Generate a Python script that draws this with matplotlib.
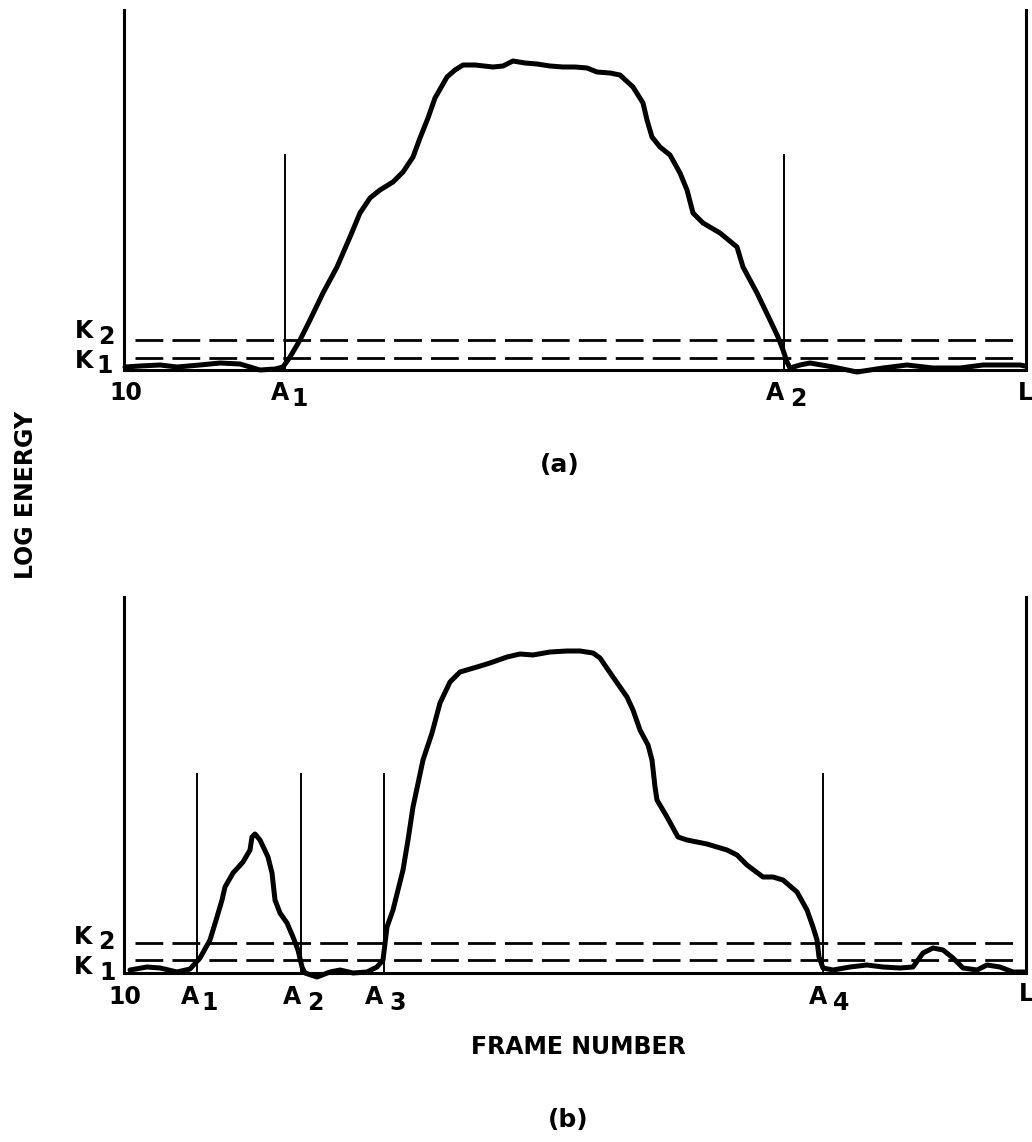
import matplotlib.pyplot as plt
import numpy as np

# frame number (10 .. L = 912) and log energy
frame_a = [11, 26, 46, 63, 86, 106, 126, 146, 161, 169, 176, 186, 196, 209, 223, 236, 246, 256, 266,
           279, 289, 299, 306, 314, 321, 333, 341, 349, 361, 379, 389, 399, 411, 423, 436, 449, 461,
           473, 483, 496, 506, 519, 529, 533, 538, 546, 556, 566, 573, 579, 589, 606, 623, 629, 643,
           656, 664, 669, 673, 676, 686, 696, 719, 743, 769, 793, 819, 846, 869, 886, 906, 911]
energy_a = [3, 4, 5, 3, 5, 7, 6, 0, 1, 3, 13, 30, 50, 77, 103, 133, 157, 172, 180,
            188, 198, 213, 232, 252, 272, 293, 300, 305, 305, 303, 304, 309, 307, 306, 304, 303, 303,
            302, 298, 297, 295, 283, 267, 250, 233, 223, 215, 197, 180, 157, 147, 137, 123, 103, 77,
            50, 33, 20, 8, 2, 5, 7, 3, -2, 2, 5, 2, 2, 5, 5, 5, 4]

frame_b = [16, 33, 46, 63, 76, 86, 96, 103, 108, 111, 119, 129, 136, 138, 141, 146, 154, 158, 161,
           166, 173, 179, 184, 188, 191, 203, 216, 226, 239, 253, 263, 269, 273, 279, 289, 294, 299,
           309, 318, 326, 336, 346, 363, 376, 393, 406, 419, 436, 453, 466, 479, 486, 499, 513, 519,
           526, 534, 538, 541, 543, 553, 564, 573, 593, 613, 623, 633, 649, 659, 669, 683, 693, 699,
           703, 705, 709, 719, 736, 753, 769, 786, 799, 809, 819, 829, 839, 849, 863, 873, 886, 899, 911]
energy_b = [3, 6, 5, 1, 4, 15, 33, 56, 73, 86, 100, 111, 123, 136, 139, 133, 116, 100, 73,
            60, 50, 36, 23, 6, 0, -4, 1, 3, 0, 1, 6, 13, 46, 63, 103, 133, 166,
            213, 240, 270, 291, 301, 306, 310, 316, 319, 318, 321, 322, 322, 320, 315, 296, 276, 263,
            243, 228, 213, 186, 173, 156, 136, 133, 129, 123, 118, 108, 96, 96, 93, 81, 63, 46,
            33, 16, 5, 3, 6, 8, 6, 5, 6, 20, 25, 23, 15, 5, 3, 8, 6, 1, 1]

# thresholds and endpoint markers
k_a = [12, 30]
k_b = [13, 30]
ends_a = [171, 670]
ends_b = [83, 187, 270, 709]
marker_h_a = 216
marker_h_b = 200

W, H = 1032, 1142
fig = plt.figure(figsize=(W / 100, H / 100), dpi=100)
plt.rcParams['font.family'] = 'DejaVu Sans'


def px_axes(left, right, top, bottom):
    return fig.add_axes([left / W, 1 - bottom / H, (right - left) / W, (bottom - top) / H])


def px_text(x, y, s, size=17, **kw):
    fig.text(x / W, 1 - y / H, s, fontsize=size, fontweight='bold', ha='center', va='center', **kw)


def panel(ax, frame, energy, ks, ends, mh, top):
    ax.set_xlim(10, 912)
    ax.set_ylim(0, top)
    ax.plot(frame, energy, color='black', lw=3.6, solid_joinstyle='round',
            solid_capstyle='round', clip_on=False)
    for k in ks:
        ax.plot([21, 902], [k, k], color='black', lw=2, linestyle=(0, (10, 3.3)))
    ax.vlines(ends, 0, mh, color='black', lw=1.4)
    ax.spines['top'].set_visible(False)
    for s in ['left', 'right', 'bottom']:
        ax.spines[s].set_linewidth(2.2)
    ax.set_xticks([])
    ax.set_yticks([])
    ax.patch.set_alpha(0)


ax_a = px_axes(124, 1026, 10, 370)
panel(ax_a, frame_a, energy_a, k_a, ends_a, marker_h_a, 360)

ax_b = px_axes(124, 1026, 597, 973)
panel(ax_b, frame_b, energy_b, k_b, ends_b, marker_h_b, 376)

# panel (a) labels
px_text(84, 331, 'K')
px_text(106, 337, '2')
px_text(84, 361, 'K')
px_text(105, 366, '1')
px_text(126, 393, '10')
px_text(280, 393, 'A')
px_text(300, 399, '1')
px_text(775, 393, 'A')
px_text(798, 399, '2')
px_text(1025, 393, 'L')
px_text(560, 465, '(a)', size=18)

# panel (b) labels
px_text(83, 937, 'K')
px_text(106, 942, '2')
px_text(83, 967, 'K')
px_text(108, 973, '1')
px_text(125, 997, '10')
px_text(190, 997, 'A')
px_text(210, 1003, '1')
px_text(292, 997, 'A')
px_text(315, 1003, '2')
px_text(374, 997, 'A')
px_text(398, 1003, '3')
px_text(818, 997, 'A')
px_text(841, 1003, '4')
px_text(1026, 994, 'L')
px_text(578, 1047, 'FRAME NUMBER', size=17)
px_text(568, 1120, '(b)', size=18)

px_text(26, 495, 'LOG ENERGY', size=17, rotation=90)

fig.savefig('out.png', dpi=100)
